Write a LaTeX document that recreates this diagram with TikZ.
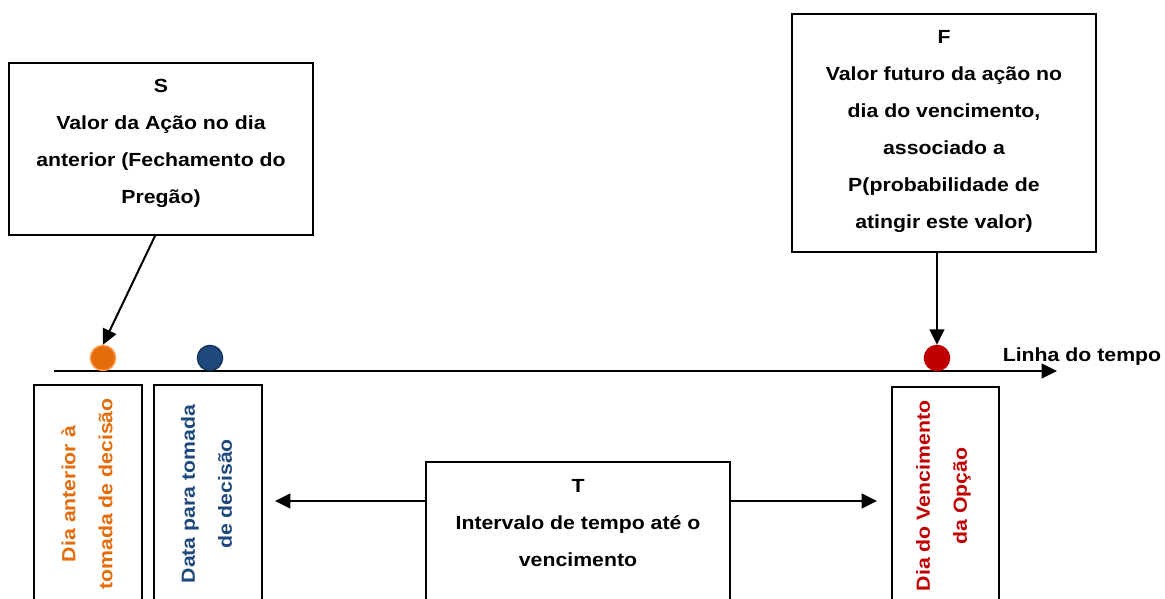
\documentclass[tikz,border=0pt]{standalone}
\usepackage{fontspec}
\setmainfont[FakeStretch=1.12]{Liberation Sans}
\usetikzlibrary{arrows.meta}
\definecolor{orfill}{HTML}{E46C0A}
\definecolor{orline}{HTML}{F79646}
\definecolor{bufill}{HTML}{1F497D}
\definecolor{buline}{HTML}{17375E}
\definecolor{rdfill}{HTML}{C00000}
\begin{document}
\begin{tikzpicture}[x=0.75pt,y=-0.75pt,
 box/.style={draw=black,line width=1.5pt,fill=white,inner sep=0pt},
 txt/.style={font=\fontsize{14.25}{27.75}\selectfont\bfseries,align=center,inner sep=0pt},
 dot/.style={circle,inner sep=0pt,minimum size=18.75pt,line width=1.2pt},
 arr/.style={line width=1.5pt,-{Triangle[length=11.5pt,width=11pt]}}]
\useasboundingbox (0,0) rectangle (1165,599);
\clip (0,0) rectangle (1165,599);

% top boxes
\node[box,minimum width=228pt,minimum height=129pt] (Sbox) at (161,149) {};
\node[txt] (Stxt) at (161,143.5) {S\\Valor da Ação no dia\\anterior (Fechamento do\\Pregão)};
\node[box,minimum width=228pt,minimum height=178.5pt] (Fbox) at (944,133) {};
\node[txt] (Ftxt) at (944,131.5) {F\\Valor futuro da ação no\\dia do vencimento,\\associado a\\P(probabilidade de\\atingir este valor)};

% timeline
\coordinate (tl0) at (54,371);
\coordinate (tl1) at (1057,371);
\draw[arr] (tl0) -- (tl1);
\node[txt] (ltxt) at (1082,357) {Linha do tempo};

% dots
\node[dot,fill=orfill,draw=orline] (dA) at (103,358) {};
\node[dot,fill=bufill,draw=buline] (dB) at (210,358) {};
\node[dot,fill=rdfill,draw=rdfill] (dC) at (937,358) {};

% bottom boxes
\node[box,minimum width=81pt,minimum height=168.75pt] (b1) at (88,497.5) {};
\node[box,minimum width=81pt,minimum height=168.75pt] (b2) at (208,497.5) {};
\node[box,minimum width=80.25pt,minimum height=167.25pt] (b3) at (945.5,498.5) {};
\node[box,minimum width=228pt,minimum height=111pt] (Tbox) at (578,536) {};

\node[txt,rotate=90,text=orfill] (t1) at (87,494) {Dia anterior à\\tomada de decisão};
\node[txt,rotate=90,text=bufill] (t2) at (206.5,494) {Data para tomada\\de decisão};
\node[txt,rotate=90,text=rdfill] (t3) at (943.5,496) {Dia do Vencimento\\da Opção};
\node[txt] (Ttxt) at (578,523) {T\\Intervalo de tempo até o\\vencimento};

% connectors
\draw[arr] ([xshift=-4.5pt]Sbox.south) -- (dA.north);
\draw[arr] (Fbox.south -| dC) -- (dC);
\coordinate (ya) at (0,501);
\draw[arr,shorten >=9pt] (Tbox.west |- ya) -- (b2.east |- ya);
\draw[arr,shorten >=10.5pt] (Tbox.east |- ya) -- (b3.west |- ya);
\end{tikzpicture}
\end{document}
